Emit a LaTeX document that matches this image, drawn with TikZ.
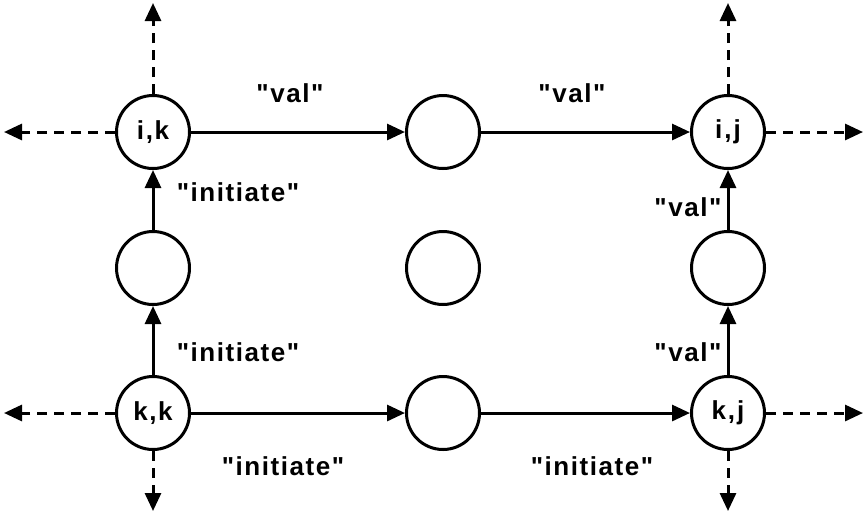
\documentclass[tikz,border=0pt]{standalone}
\usepackage{fontspec}
\setmainfont[LetterSpace=6,Ligatures=TeXOff]{Liberation Sans}
\usetikzlibrary{arrows.meta}
\newcommand\qq{\symbol{34}}
\begin{document}
\begin{tikzpicture}[x=1pt,y=-1pt,
  cell/.style={circle,draw,line width=3pt,minimum size=73pt,inner sep=0pt,font=\fontsize{26}{30}\selectfont\bfseries},
  link/.style={line width=3pt,-{Triangle[length=18pt,width=16pt]}},
  outlink/.style={line width=3pt,dash pattern=on 10pt off 7pt,-{Triangle[length=18pt,width=16pt]}},
  lbl/.style={font=\fontsize{26}{30}\selectfont\bfseries}]
\useasboundingbox (0,0) rectangle (864,515);
\node[cell] (ik) at (153,132) {i,k};
\node[cell] (tm) at (443,132) {};
\node[cell] (ij) at (728,132) {i\kern2pt,\kern2pt j};
\node[cell] (lm) at (153,268) {};
\node[cell] (cc) at (443,268) {};
\node[cell] (rm) at (728,268) {};
\node[cell] (kk) at (153,413) {k,k};
\node[cell] (bm) at (443,413) {};
\node[cell] (kj) at (728,413) {k\kern2pt,\kern2pt j};
\coordinate (ikU) at (153,3);
\coordinate (ikL) at (4,132);
\coordinate (ijU) at (728,3);
\coordinate (ijR) at (863,132);
\coordinate (kkL) at (4,413);
\coordinate (kkD) at (153,511);
\coordinate (kjR) at (863,413);
\coordinate (kjD) at (728,511);
\draw[link] (ik) -- (tm);
\draw[link] (tm) -- (ij);
\draw[link] (kk) -- (bm);
\draw[link] (bm) -- (kj);
\draw[link] (kk) -- (lm);
\draw[link] (lm) -- (ik);
\draw[link] (kj) -- (rm);
\draw[link] (rm) -- (ij);
\draw[outlink] (ik) -- (ikU);
\draw[outlink] (ik) -- (ikL);
\draw[outlink] (ij) -- (ijU);
\draw[outlink] (ij) -- (ijR);
\draw[outlink] (kk) -- (kkL);
\draw[outlink] (kk) -- (kkD);
\draw[outlink] (kj) -- (kjR);
\draw[outlink] (kj) -- (kjD);
\node[lbl] (l1) at (290,93) {\qq val\qq};
\node[lbl] (l2) at (572,93) {\qq val\qq};
\node[lbl] (l3) at (238,192) {\qq initiate\qq};
\node[lbl] (l4) at (238,352) {\qq initiate\qq};
\node[lbl] (l5) at (283,466) {\qq initiate\qq};
\node[lbl] (l6) at (592,466) {\qq initiate\qq};
\node[lbl] (l7) at (688,207) {\qq val\qq};
\node[lbl] (l8) at (688,352) {\qq val\qq};
\end{tikzpicture}
\end{document}
